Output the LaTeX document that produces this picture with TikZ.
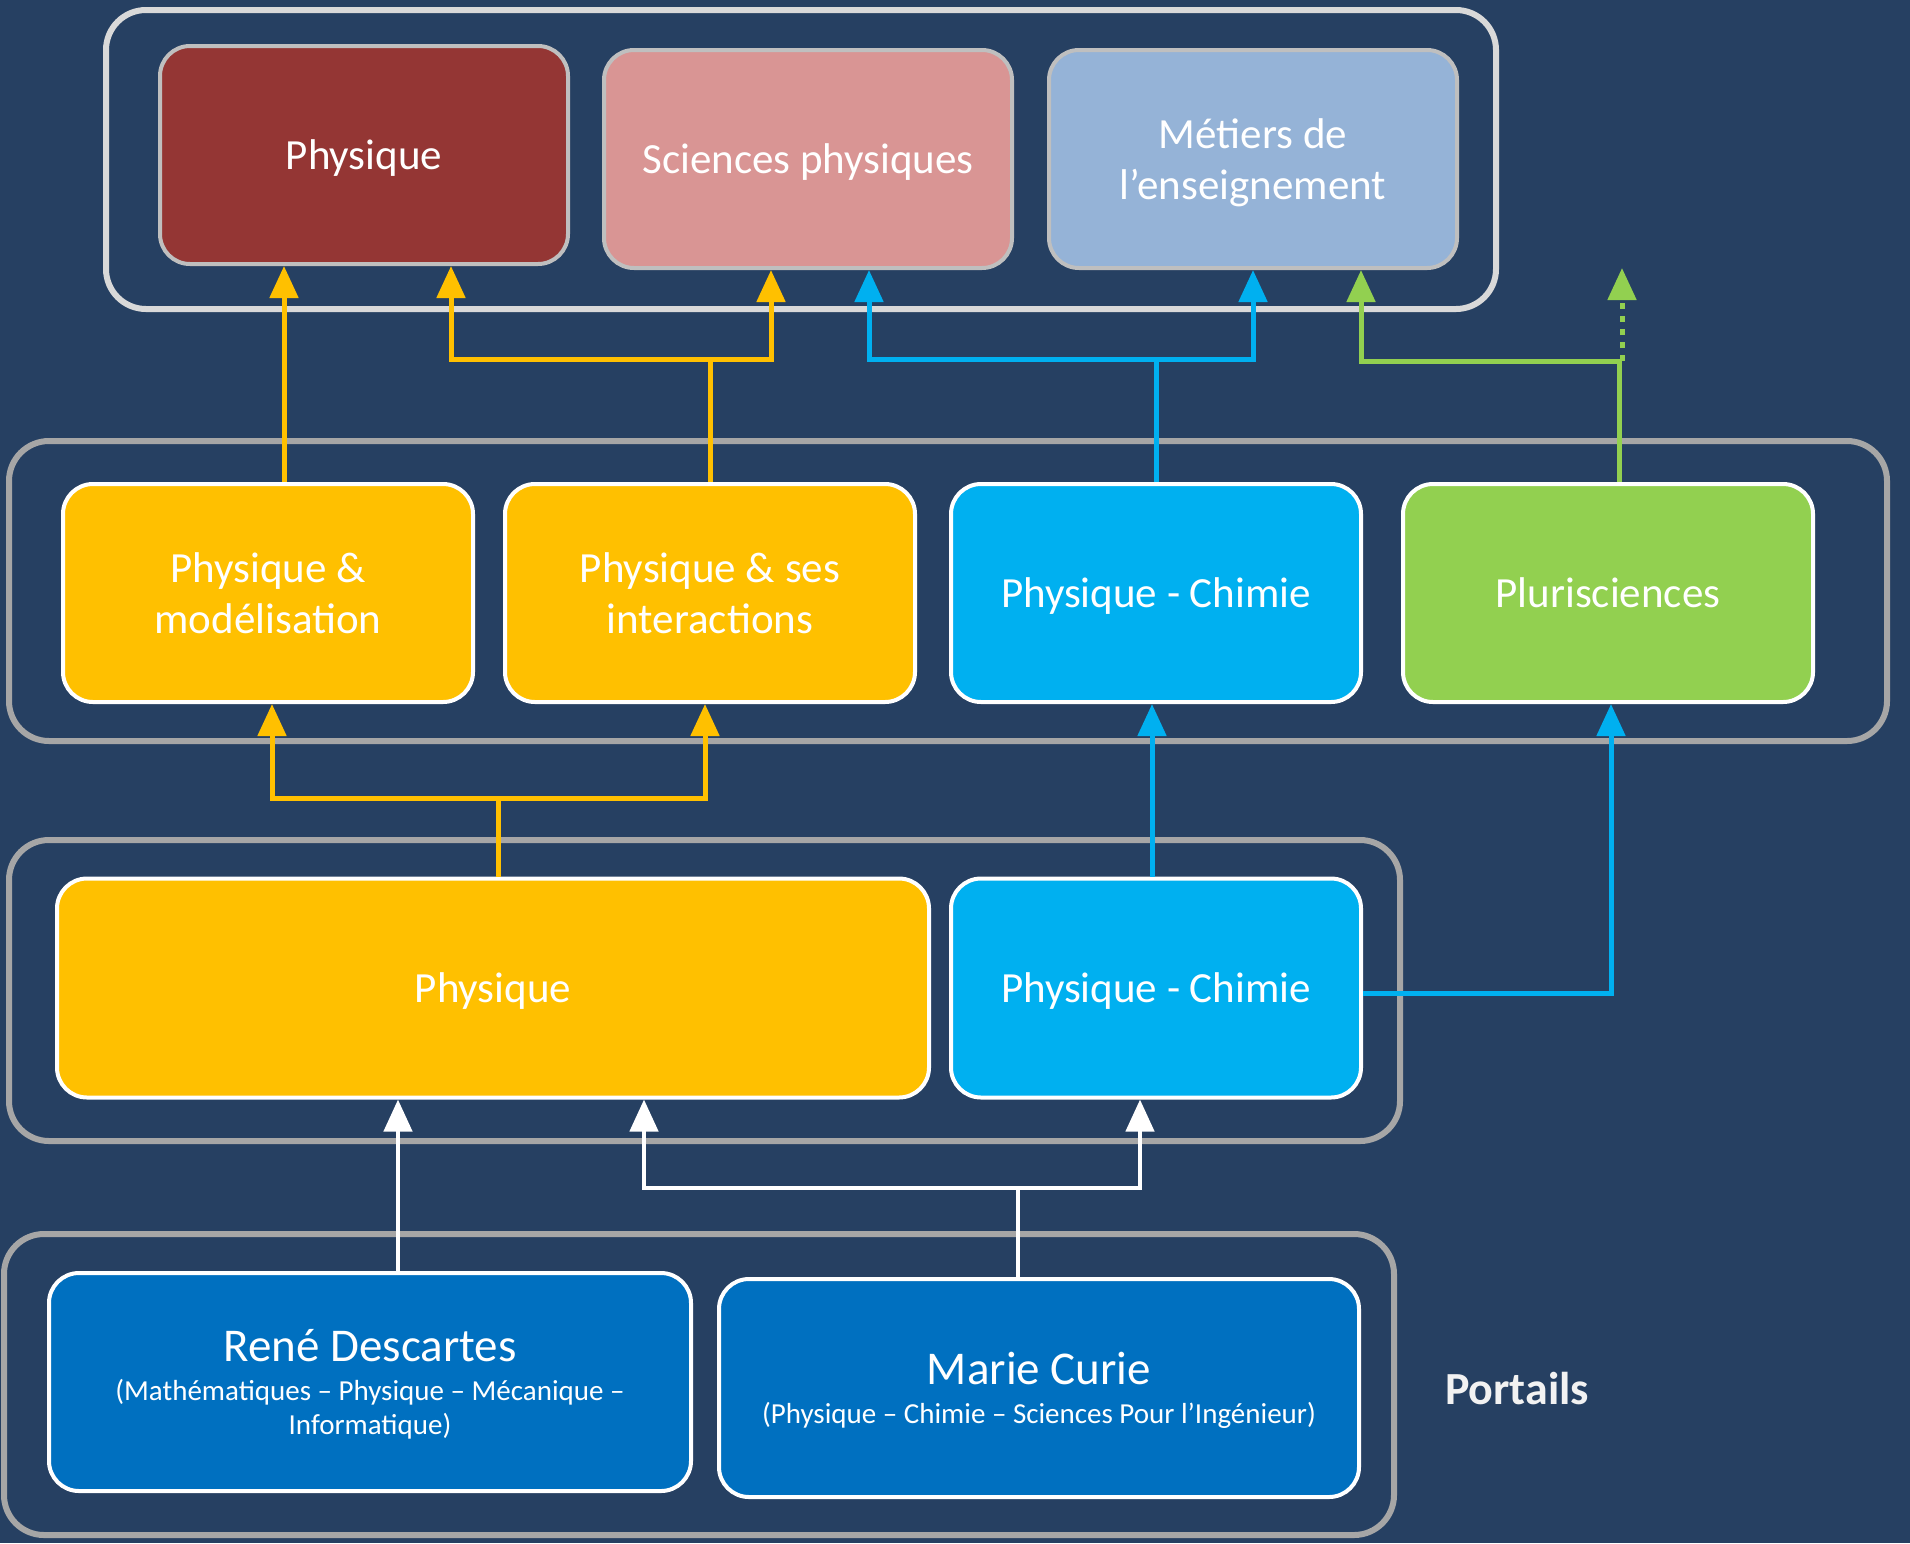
\documentclass[tikz,border=0pt]{standalone}
\usepackage{fontspec}
\setmainfont{Carlito}
\usetikzlibrary{arrows.meta,positioning}
\definecolor{bgblue}{HTML}{264062}
\definecolor{redbox}{HTML}{943634}
\definecolor{pinkbox}{HTML}{D99594}
\definecolor{paleblue}{HTML}{95B3D7}
\definecolor{ambre}{HTML}{FFC000}
\definecolor{cyanbox}{HTML}{00B0F0}
\definecolor{vert}{HTML}{92D050}
\definecolor{bleu}{HTML}{0070C0}
\definecolor{grpgray}{HTML}{A6A6A6}
\definecolor{lightgray}{HTML}{D9D9D9}
\definecolor{boxgray}{HTML}{BFBFBF}
\newcommand{\titlefont}{\fontsize{47}{47}\selectfont}
\newcommand{\subfont}{\fontsize{29}{34}\selectfont}

\begin{document}
\begin{tikzpicture}[x=1pt, y=-1pt,
    box/.style={rectangle, rounded corners=30pt, draw=white, line width=4pt,
        text=white, align=center, minimum width=408pt, minimum height=218pt,
        text depth=0pt, font=\fontsize{43}{51}\selectfont},
    topbox/.style={box, draw=boxgray},
    group/.style={rounded corners=40pt, draw=grpgray, line width=6pt},
    tip/.style={-{Triangle[width=28pt,length=32pt]}},
    yline/.style={draw=ambre, line width=5pt},
    bline/.style={draw=cyanbox, line width=5pt},
    gline/.style={draw=vert, line width=5pt},
    wline/.style={draw=white, line width=4.5pt}
]
\useasboundingbox[fill=bgblue] (0,0) rectangle (1910,1543);

% Groups
\draw[group, draw=lightgray] (106,10) rectangle (1496,309);
\draw[group] (9,441) rectangle (1887,741);
\draw[group] (9,840) rectangle (1400,1141);
\draw[group] (4,1234) rectangle (1394,1535);

% Top row
\node[topbox, fill=redbox] (phys) at (364,155) {Physique};
\node[topbox, fill=pinkbox] (sci) at (808,159) {Sciences physiques};
\node[topbox, fill=paleblue] (met) at (1253,159) {Métiers de\\l’enseignement};

% Second row
\node[box, fill=ambre, minimum width=410pt] (pm) at (268,593) {Physique \&\\modélisation};
\node[box, fill=ambre, minimum width=410pt] (pses) at (710,593) {Physique \& ses\\interactions};
\node[box, fill=cyanbox, minimum width=410pt] (pc) at (1156,593) {Physique - Chimie};
\node[box, fill=vert, minimum width=410pt] (pluri) at (1608,593) {Plurisciences};

% Third row
\node[box, fill=ambre, minimum width=872pt, minimum height=219pt] (physL) at (493,988) {Physique};
\node[box, fill=cyanbox, minimum width=410pt, minimum height=219pt] (pc2) at (1156,988) {Physique - Chimie};

% Portails
\node[box, fill=bleu, minimum width=642pt] (rene) at (370,1382)
    {\titlefont René Descartes\\[-12pt]
     \subfont (Mathématiques – Physique – Mécanique –\\[-17pt]\subfont Informatique)};
\node[box, fill=bleu, minimum width=640pt] (marie) at (1039,1388)
    {\titlefont Marie Curie\\[-12pt]
     \subfont (Physique – Chimie – Sciences Pour l’Ingénieur)};
\node[text=white!95!black, font=\fontsize{46}{46}\selectfont\bfseries] (portails) at (1517,1389) {Portails};

% Junctions
\coordinate (jy1) at (714,359);
\coordinate (jb1) at (1156,359);
\coordinate (jg1) at (1619,361);
\coordinate (gtip) at (1622,268);
\coordinate (jy2) at (498,798);
\coordinate (jw1) at (1018,1188);

% Arrows to the top row
\draw[yline, tip] ([xshift=16pt]pm.north) -- ([xshift=16pt]pm.north |- phys.south);
\draw[yline] (pses.north) -- (pses.north |- jy1);
\draw[yline, tip] (jy1) -| ([xshift=87pt]phys.south);
\draw[yline, tip] (jy1) -| ([xshift=-37pt]sci.south);
\draw[bline] (pc.north) -- (jb1);
\draw[bline, tip] (jb1) -| ([xshift=61pt]sci.south);
\draw[bline, tip] (jb1) -| (met.south);
\draw[gline] ([xshift=11pt]pluri.north) -- (jg1);
\draw[gline, tip] (jg1) -| ([xshift=108pt]met.south);
\draw[gline] (jg1) -- (jg1 -| gtip);
\draw[gline, tip, dash pattern=on 6pt off 7pt] (jg1 -| gtip) -- (gtip);

% Arrows to the second row
\draw[yline] ([xshift=5pt]physL.north) -- (jy2);
\draw[yline, tip] (jy2) -| ([xshift=4pt]pm.south);
\draw[yline, tip] (jy2) -| ([xshift=-5pt]pses.south);
\draw[bline, tip] ([xshift=-4pt]pc2.north) -- ([xshift=-4pt]pc.south);
\draw[bline, tip] ([yshift=-5pt]pc2.east) -| ([xshift=3pt]pluri.south);

% Arrows from the portails
\draw[wline, tip] ([xshift=28pt]rene.north) -- ([xshift=28pt]rene.north |- physL.south);
\draw[wline] ([xshift=-21pt]marie.north) -- (jw1);
\draw[wline, tip] (jw1) -| ([xshift=151pt]physL.south);
\draw[wline, tip] (jw1) -| ([xshift=-16pt]pc2.south);
\end{tikzpicture}
\end{document}
